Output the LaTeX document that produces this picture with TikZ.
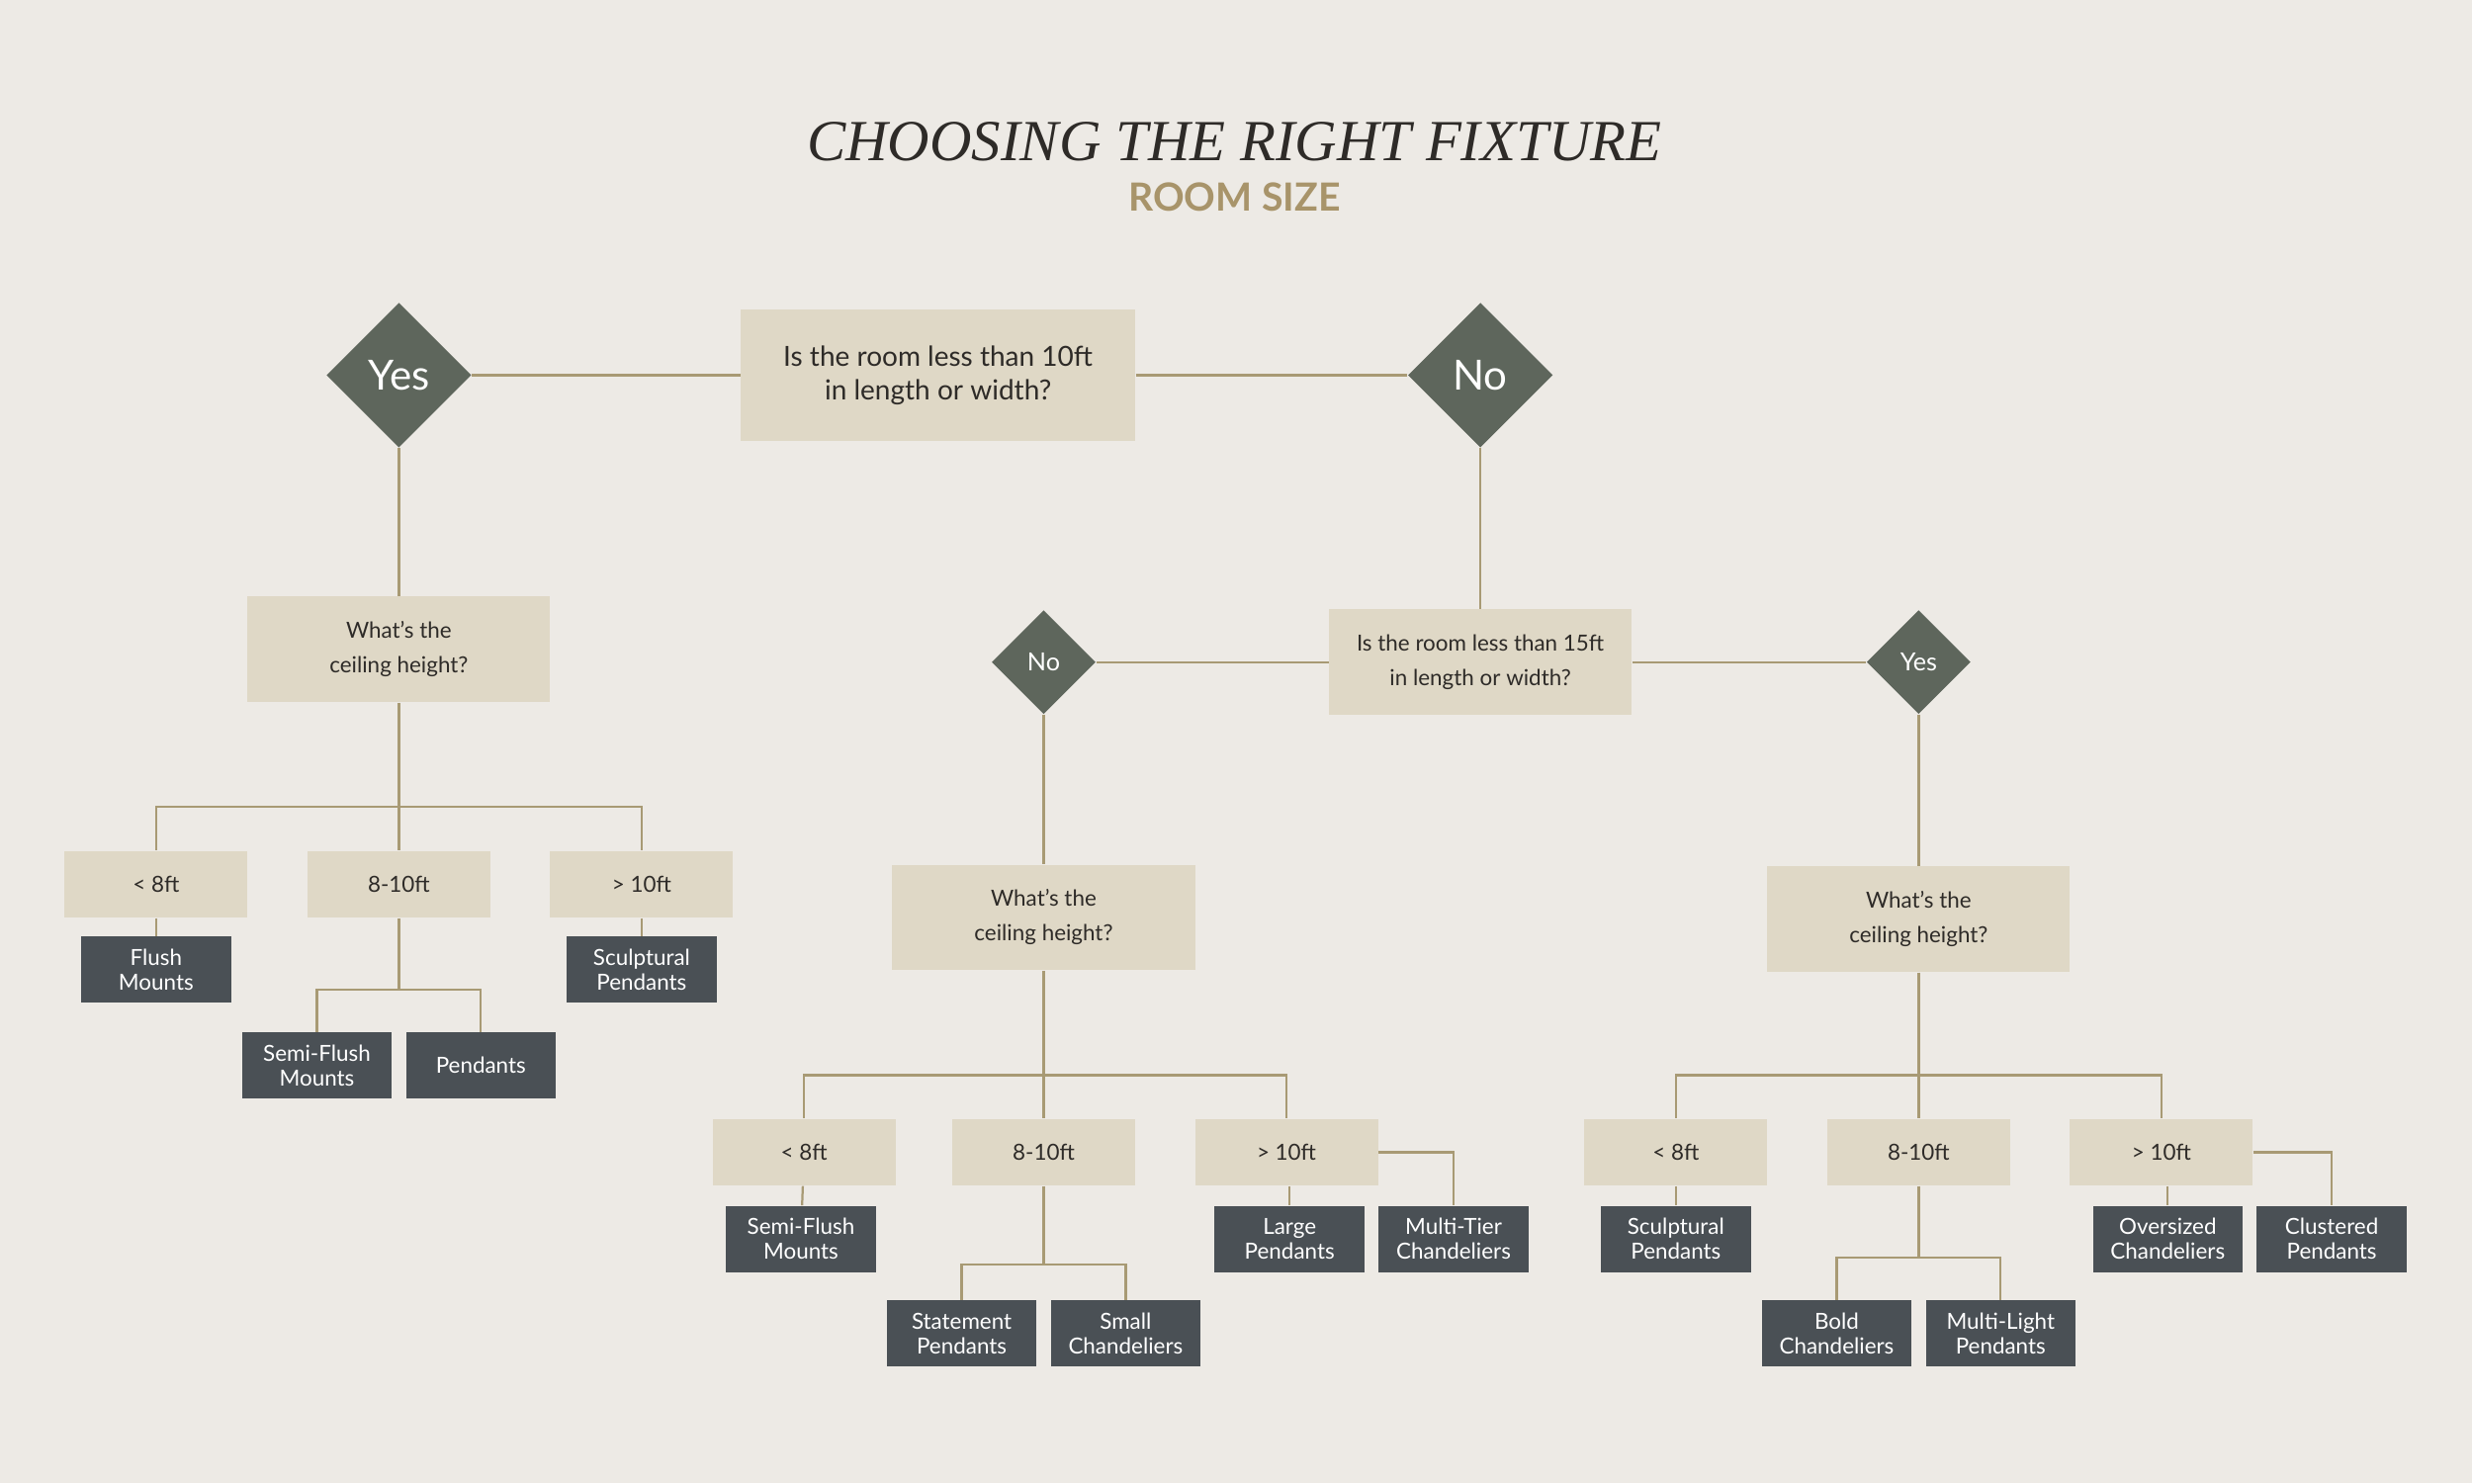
\documentclass[tikz,border=0pt]{standalone}
\usepackage{fontspec}
\setmainfont{Lato}
\newfontfamily\titlefont{Liberation Serif}
\usetikzlibrary{shapes.geometric}
\definecolor{paper}{HTML}{EDEAE5}
\definecolor{sand}{HTML}{DFD8C6}
\definecolor{moss}{HTML}{5E665C}
\definecolor{slate}{HTML}{4A5055}
\definecolor{wire}{HTML}{A89A74}
\definecolor{ink}{HTML}{2E2B28}
\definecolor{gold}{HTML}{A8946A}
\tikzset{
  question/.style={fill=sand,text=ink,align=center,minimum width=192*0.02cm,minimum height=67*0.02cm,font=\fontsize{8}{12.5}\selectfont},
  bigq/.style={question,minimum width=250*0.02cm,minimum height=84*0.02cm,font=\fontsize{10}{12}\selectfont},
  height/.style={fill=sand,text=ink,minimum width=116*0.02cm,minimum height=42*0.02cm,font=\fontsize{8}{10}\selectfont},
  fixture/.style={fill=slate,text=white,align=center,minimum width=95*0.02cm,minimum height=42*0.02cm,inner sep=1pt,font=\fontsize{8}{9}\selectfont},
  bigans/.style={diamond,fill=moss,text=white,minimum size=92*0.02cm,inner sep=0pt,font=\fontsize{15}{18}\selectfont},
  smallans/.style={diamond,fill=moss,text=white,minimum size=66*0.02cm,inner sep=0pt,font=\fontsize{9}{11}\selectfont},
  link/.style={draw=wire,line width=0.8pt}
}
\begin{document}
\begin{tikzpicture}[x=0.02cm,y=-0.02cm]
\fill[paper] (0,0) rectangle (1568,941);
\useasboundingbox (0,0) rectangle (1568,941);

% heading
\node[text=ink,font=\titlefont\itshape\fontsize{21}{24}\selectfont] (title) at (783,90) {CHOOSING THE RIGHT FIXTURE};
\node[text=gold,font=\bfseries\fontsize{14}{16}\selectfont] (subtitle) at (783,125) {ROOM SIZE};

% top level
\node[bigq] (q10) at (595,238) {Is the room less than 10ft\\in length or width?};
\node[bigans] (yes1) at (253,238) {Yes};
\node[bigans] (no1) at (939,238) {No};
\draw[link] (yes1) -- (q10);
\draw[link] (q10) -- (no1);

% small rooms
\node[question] (ceilA) at (253,412) {What's the\\ceiling height?};
\draw[link] (yes1) -- (ceilA);
\node[height] (lowA) at (99,561) {< 8ft};
\node[height] (midA) at (253,561) {8-10ft};
\node[height] (highA) at (407,561) {> 10ft};
\coordinate (barA) at (253,512);
\draw[link] (ceilA) -- (midA);
\draw[link] (barA) -| (lowA);
\draw[link] (barA) -| (highA);
\node[fixture] (flushA) at (99,615) {Flush\\Mounts};
\node[fixture] (sculptA) at (407,615) {Sculptural\\Pendants};
\node[fixture] (semiA) at (201,676) {Semi-Flush\\Mounts};
\node[fixture] (pendA) at (305,676) {Pendants};
\draw[link] (lowA) -- (flushA);
\draw[link] (highA) -- (sculptA);
\coordinate (splitA) at (253,628);
\draw[link] (midA) -- (splitA);
\draw[link] (splitA) -| (semiA);
\draw[link] (splitA) -| (pendA);

% larger rooms
\node[question] (q15) at (939,420) {Is the room less than 15ft\\in length or width?};
\draw[link] (no1) -- (q15);
\node[smallans] (no2) at (662,420) {No};
\node[smallans] (yes2) at (1217,420) {Yes};
\draw[link] (no2) -- (q15);
\draw[link] (q15) -- (yes2);

% over 15ft
\node[question] (ceilB) at (662,582) {What's the\\ceiling height?};
\draw[link] (no2) -- (ceilB);
\node[height] (lowB) at (510,731) {< 8ft};
\node[height] (midB) at (662,731) {8-10ft};
\node[height] (highB) at (816,731) {> 10ft};
\coordinate (barB) at (662,682);
\draw[link] (ceilB) -- (midB);
\draw[link] (barB) -| (lowB);
\draw[link] (barB) -| (highB);
\node[fixture] (semiB) at (508,786) {Semi-Flush\\Mounts};
\node[fixture] (statB) at (610,846) {Statement\\Pendants};
\node[fixture] (smallB) at (714,846) {Small\\Chandeliers};
\node[fixture] (largeB) at (818,786) {Large\\Pendants};
\node[fixture] (tierB) at (922,786) {Multi-Tier\\Chandeliers};
\draw[link] (lowB) -- (semiB);
\coordinate (splitB) at (662,802);
\draw[link] (midB) -- (splitB);
\draw[link] (splitB) -| (statB);
\draw[link] (splitB) -| (smallB);
\draw[link] (largeB |- highB.south) -- (largeB);
\draw[link] (highB.east) -| (tierB);

% 10-15ft
\node[question] (ceilC) at (1217,583) {What's the\\ceiling height?};
\draw[link] (yes2) -- (ceilC);
\node[height] (lowC) at (1063,731) {< 8ft};
\node[height] (midC) at (1217,731) {8-10ft};
\node[height] (highC) at (1371,731) {> 10ft};
\coordinate (barC) at (1217,682);
\draw[link] (ceilC) -- (midC);
\draw[link] (barC) -| (lowC);
\draw[link] (barC) -| (highC);
\node[fixture] (sculptC) at (1063,786) {Sculptural\\Pendants};
\node[fixture] (boldC) at (1165,846) {Bold\\Chandeliers};
\node[fixture] (multiC) at (1269,846) {Multi-Light\\Pendants};
\node[fixture] (overC) at (1375,786) {Oversized\\Chandeliers};
\node[fixture] (clustC) at (1479,786) {Clustered\\Pendants};
\draw[link] (lowC) -- (sculptC);
\coordinate (splitC) at (1217,798);
\draw[link] (midC) -- (splitC);
\draw[link] (splitC) -| (boldC);
\draw[link] (splitC) -| (multiC);
\draw[link] (overC |- highC.south) -- (overC);
\draw[link] (highC.east) -| (clustC);
\end{tikzpicture}
\end{document}
